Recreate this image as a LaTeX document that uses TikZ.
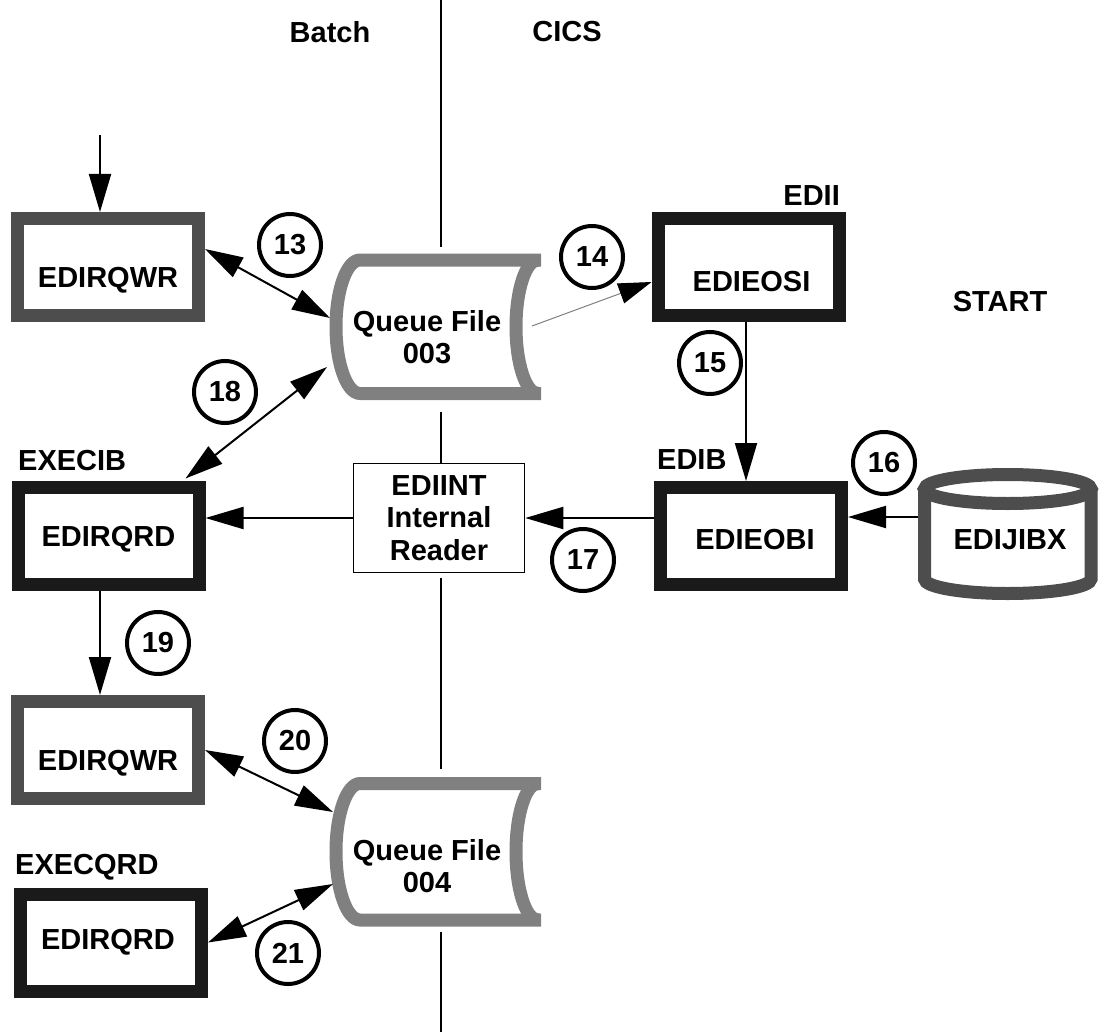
\documentclass[tikz,border=0pt]{standalone}
\usepackage{fontspec}
\setmainfont{Liberation Sans}
\usetikzlibrary{arrows.meta,calc}
\definecolor{dk}{HTML}{1A1A1A}
\definecolor{gr}{HTML}{4D4D4D}
\definecolor{qg}{HTML}{808080}
\tikzset{
 txt/.style={font=\fontsize{29}{32.5}\selectfont\bfseries, inner sep=0pt},
 every label/.style={txt},
 box/.style={draw=dk, line width=13pt, minimum width=181pt, minimum height=97pt, inner sep=0pt},
 gbox/.style={box, draw=gr},
 num/.style={circle, draw=black, line width=4pt, minimum size=62pt, inner sep=0pt, font=\fontsize{29}{29}\selectfont\bfseries},
 arr/.style={draw=black, line width=2pt, -{Triangle[length=38pt,width=22pt]}},
 dbl/.style={draw=black, line width=2pt, {Triangle[length=38pt,width=22pt]}-{Triangle[length=38pt,width=22pt]}},
 thinarr/.style={draw=qg, line width=1pt, -{Triangle[length=33pt,width=21pt,color=black]}},
 queue/.style={draw=qg, line width=13pt},
 cylst/.style={draw=gr, line width=13pt},
 divline/.style={draw=black, line width=2pt},
}
\begin{document}
\begin{tikzpicture}[x=1pt,y=-1pt]
\useasboundingbox (0,0) rectangle (1099,1032);

% divider between Batch and CICS
\draw[divline] (441,0) -- (441,247);
\draw[divline] (441,412) -- (441,463);
\draw[divline] (441,578) -- (441,769);
\draw[divline] (441,932) -- (441,1032);

% headings
\node[txt] (batch) at (330,32) {Batch};
\node[txt] (cics) at (567,32) {CICS};
\node[txt] (start) at (1000,302) {START};
\node[txt, anchor=west] (lexecib) at (18,461) {EXECIB};
\node[txt, anchor=west] (lexecqrd) at (15,867) {EXECQRD};
\node[txt, anchor=west] (ledib) at (657,460) {EDIB};
\node[txt, anchor=east] (ledii) at (840,196) {EDII};

% program boxes
\node[gbox, label={[yshift=-13pt]center:EDIRQWR}] (wr1) at (108,267) {};
\node[box, label={[yshift=-4pt]center:EDIRQRD}] (rqd1) at (108.5,535.5) {};
\node[gbox, label={[yshift=-13pt]center:EDIRQWR}] (wr2) at (108,750) {};
\node[box, label={[xshift=-3pt]center:EDIRQRD}] (rqd2) at (111,942.5) {};
\node[box, label={[yshift=-15pt,xshift=3pt]center:EDIEOSI}] (osi) at (748.5,267) {};
\node[box, label={[yshift=-4pt,xshift=4pt]center:EDIEOBI}] (obi) at (751,536) {};
\node[draw, line width=1.5pt, minimum width=171pt, minimum height=109pt, txt, align=center] (int) at (439,518) {EDIINT\\Internal\\Reader};

% queue files
\node[txt, align=center] (q3) at (427,337) {Queue File\\003};
\draw[queue, shift={(q3.center)}] (114,-77) -- (-67,-77) arc[start angle=90,end angle=270,x radius=24pt,y radius=66.75pt] -- (114,56.5);
\draw[queue, shift={(q3.center)}] (111,-77) arc[start angle=90,end angle=270,x radius=22pt,y radius=66.75pt];
\node[txt, align=center] (q4) at (427,866) {Queue File\\004};
\draw[queue, shift={(q4.center)}] (114,-82.5) -- (-67,-82.5) arc[start angle=90,end angle=270,x radius=24pt,y radius=68.25pt] -- (114,54);
\draw[queue, shift={(q4.center)}] (111,-82.5) arc[start angle=90,end angle=270,x radius=22pt,y radius=68.25pt];

\coordinate (q3a) at ($(q3.center)+(-97,-19)$);
\coordinate (q3b) at ($(q3.center)+(-100,30)$);
\coordinate (q3c) at ($(q3.center)+(105,-11)$);
\coordinate (q4a) at ($(q4.center)+(-94,-54)$);
\coordinate (q4b) at ($(q4.center)+(-94,18)$);

% disk EDIJIBX
\node[txt, minimum width=184pt, minimum height=130pt] (cyl) at (1010,540) {EDIJIBX};
\draw[cylst, shift={(cyl.center)}] (-2.25,-51) ellipse [x radius=83.25pt, y radius=14.5pt];
\draw[cylst, shift={(cyl.center)}] (-85.5,-51) -- (-85.5,39) arc[start angle=180,end angle=360,x radius=83.25pt,y radius=14.5pt] -- (81,-51);

% step numbers
\node[num] (n13) at (290,245) {13};
\node[num] (n14) at (592,257) {14};
\node[num] (n15) at (710,363) {15};
\node[num] (n16) at (884,463) {16};
\node[num] (n17) at (583,560) {17};
\node[num] (n18) at (225,392) {18};
\node[num] (n19) at (158,643) {19};
\node[num] (n20) at (295,741) {20};
\node[num] (n21) at (288,953) {21};

% connectors
\coordinate (topin) at (100,135);
\draw[arr] (topin) -- (topin |- wr1.north);
\draw[dbl] ([yshift=18pt]wr1.east) -- (q3a);
\draw[thinarr] (q3c) -- ([yshift=-15pt]osi.west);
\draw[arr] ([xshift=-2.5pt]osi.south) -- ([xshift=-2.5pt]osi.south |- obi.north);
\draw[arr] ([yshift=19pt]obi.east -| cyl.west) -- ([yshift=19pt]obi.east);
\draw[arr] (obi.west |- int.east) -- (int.east);
\draw[arr] (int.west) -- (int.west -| rqd1.east);
\draw[dbl] ([xshift=-20pt,yshift=2pt]rqd1.north east) -- (q3b);
\draw[arr] ([xshift=-8.5pt]rqd1.south) -- ([xshift=-8.5pt]rqd1.south |- wr2.north);
\draw[dbl] (wr2.east) -- (q4a);
\draw[dbl] (rqd2.east) -- (q4b);
\end{tikzpicture}
\end{document}
